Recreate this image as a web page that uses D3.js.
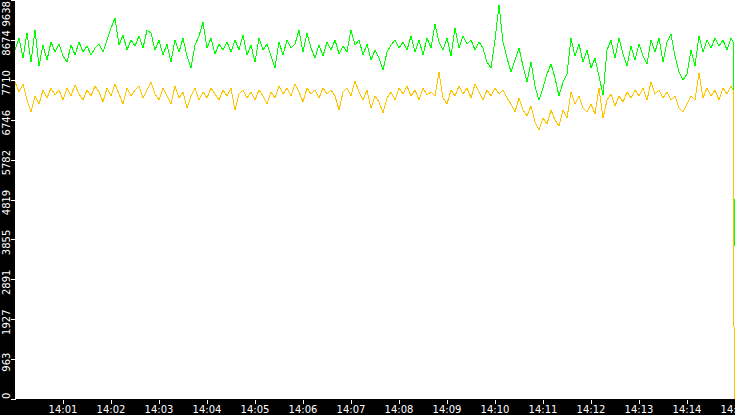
<!DOCTYPE html>
<html>
<head>
<meta charset="utf-8">
<script src="https://cdn.jsdelivr.net/npm/d3@7/dist/d3.min.js"></script>
<style>
body { margin: 0; background: #fff; }
svg { display: block; }
</style>
</head>
<body>
<script>

// samples every 5 seconds from 14:00:00
var greenValues = [8430, 8720, 8237, 8840, 8140, 8913, 8044, 8551, 8188, 8623,
  8382, 8575, 8285, 8140, 8551, 8309, 8623, 8382, 8527, 8309,
  8478, 8575, 8382, 8672, 8962, 9203, 8551, 8792, 8430, 8672,
  8527, 8768, 8478, 8913, 8840, 8430, 8672, 8309, 8575, 8140,
  8672, 8382, 8720, 8285, 7995, 8551, 8768, 9106, 8478, 8720,
  8334, 8575, 8430, 8623, 8382, 8672, 8430, 8792, 8309, 8551,
  8140, 8720, 8430, 8575, 8285, 7995, 8623, 8309, 8672, 8478,
  8575, 8913, 8382, 8840, 8478, 8237, 8551, 8285, 8623, 8430,
  8672, 8334, 8527, 8382, 8913, 8551, 8672, 8309, 8575, 8188,
  8430, 8237, 7947, 8382, 8551, 8672, 8478, 8623, 8430, 8768,
  8382, 8672, 8309, 8720, 8478, 9058, 8623, 8430, 8720, 8285,
  8962, 8478, 8768, 8575, 8672, 8430, 8623, 8478, 8140, 7995,
  8672, 9517, 8623, 8237, 7899, 8188, 8478, 8044, 7657, 8140,
  7560, 7222, 7512, 7851, 8092, 7754, 7319, 7657, 7851, 8720,
  8285, 8575, 8140, 8430, 7995, 8237, 7802, 7343, 8430, 8672,
  8237, 8720, 8334, 8044, 8527, 8188, 8575, 8285, 8092, 8672,
  8382, 8720, 8140, 8623, 8816, 8285, 7899, 7705, 7851, 8430,
  8044, 8768, 8382, 8672, 8478, 8720, 8527, 8672, 8430, 8720];

var orangeValues = [7657, 7415, 7609, 7222, 6932, 7319, 7125, 7464, 7271, 7512,
  7343, 7464, 7222, 7512, 7319, 7584, 7367, 7222, 7464, 7319,
  7560, 7415, 7174, 7512, 7319, 7609, 7367, 7125, 7512, 7319,
  7464, 7560, 7271, 7464, 7657, 7367, 7222, 7512, 7319, 7125,
  7560, 7271, 7415, 7029, 7319, 7512, 7222, 7415, 7271, 7512,
  7367, 7222, 7464, 7319, 7512, 6980, 7367, 7464, 7271, 7415,
  7222, 7464, 7319, 7125, 7415, 7271, 7560, 7367, 7512, 7319,
  7609, 7415, 7174, 7512, 7367, 7464, 7271, 7512, 7367, 7464,
  7319, 6980, 7415, 7512, 7319, 7681, 7415, 7222, 7464, 7029,
  7319, 7174, 6908, 7271, 7415, 7222, 7512, 7367, 7560, 7319,
  7464, 7222, 7512, 7343, 7415, 7319, 7899, 7271, 7125, 7464,
  7319, 7560, 7367, 7512, 7271, 7609, 7415, 7222, 7464, 7319,
  7512, 7367, 7464, 7271, 7125, 6932, 7271, 6980, 6836, 7077,
  6691, 6497, 6787, 6642, 6980, 6739, 6594, 6980, 6787, 7415,
  7125, 7319, 7029, 6932, 7125, 6884, 7512, 6787, 7222, 7367,
  7077, 7319, 7174, 7415, 7271, 7464, 7319, 7512, 7222, 7657,
  7367, 7464, 7271, 7415, 7222, 7319, 7029, 6932, 7125, 7319,
  7222, 7875, 7271, 7512, 7319, 7464, 7222, 7512, 7367, 7560];

// last samples, where both series drop off
var tailSeconds = [898, 899];
var greenTail = [8600, 3700];
var orangeTail = [7440, 0];

var stepSeconds = 5;
var startLabel = "14:00";
var endLabel = "14:15";

var yTickLabels = ["0", "963", "1927", "2891", "3855", "4819", "5782", "6746", "7710", "8674", "9638"];
var xTickLabels = ["14:01", "14:02", "14:03", "14:04", "14:05", "14:06", "14:07", "14:08",
  "14:09", "14:10", "14:11", "14:12", "14:13", "14:14", "14:15"];

var width = 735, height = 415;
var left = 15, bottom = 399;

var parseTime = d3.timeParse("%H:%M");
var t0 = parseTime(startLabel);

function toPoints(values, tail) {
  var pts = values.map(function (v, i) {
    return { t: d3.timeSecond.offset(t0, i * stepSeconds), v: v };
  });
  tail.forEach(function (v, i) {
    pts.push({ t: d3.timeSecond.offset(t0, tailSeconds[i]), v: v });
  });
  return pts;
}

var greenData = toPoints(greenValues, greenTail);
var orangeData = toPoints(orangeValues, orangeTail);

var x = d3.scaleTime()
  .domain([t0, parseTime(endLabel)])
  .range([left, width]);

var y = d3.scaleLinear()
  .domain([0, +yTickLabels[yTickLabels.length - 1]])
  .range([bottom, 0]);

var svg = d3.select("body").append("svg")
  .attr("width", width)
  .attr("height", height);

svg.append("rect")
  .attr("width", width).attr("height", height)
  .attr("fill", "#fff");

var line = d3.line()
  .x(function (d) { return x(d.t); })
  .y(function (d) { return y(d.v); });

svg.append("path")
  .datum(greenData)
  .attr("d", line)
  .attr("fill", "none")
  .attr("stroke", "#00ff00")
  .attr("stroke-width", 1)
  .attr("shape-rendering", "crispEdges");

svg.append("path")
  .datum(orangeData)
  .attr("d", line)
  .attr("fill", "none")
  .attr("stroke", "#ffc400")
  .attr("stroke-width", 1)
  .attr("shape-rendering", "crispEdges");

// black axis strips
svg.append("rect")
  .attr("x", 0).attr("y", 0)
  .attr("width", left).attr("height", height)
  .attr("fill", "#000");

svg.append("rect")
  .attr("x", 0).attr("y", bottom)
  .attr("width", width).attr("height", height - bottom)
  .attr("fill", "#000");

// y axis ticks and rotated labels
var yTicks = svg.append("g").selectAll("g")
  .data(yTickLabels)
  .enter().append("g");

yTicks.append("line")
  .attr("x1", 11).attr("x2", left + 1)
  .attr("y1", function (d) { return Math.round(y(+d)) + 0.5; })
  .attr("y2", function (d) { return Math.round(y(+d)) + 0.5; })
  .attr("stroke", "#fff")
  .attr("shape-rendering", "crispEdges");

yTicks.append("text")
  .attr("transform", function (d) {
    var half = d.length * 3.2;
    var c = y(+d) + 3;
    c = Math.max(half + 1, Math.min(bottom - half, c));
    return "translate(10," + c + ") rotate(-90)";
  })
  .attr("text-anchor", "middle")
  .attr("font-family", "DejaVu Sans")
  .attr("font-size", "10px")
  .attr("fill", "#fff")
  .text(function (d) { return d; });

// x axis ticks and labels
var xTicks = svg.append("g").selectAll("g")
  .data(xTickLabels)
  .enter().append("g");

xTicks.append("line")
  .attr("x1", function (d) { return Math.round(x(parseTime(d))) + 0.5; })
  .attr("x2", function (d) { return Math.round(x(parseTime(d))) + 0.5; })
  .attr("y1", bottom + 1).attr("y2", bottom + 5)
  .attr("stroke", "#fff")
  .attr("shape-rendering", "crispEdges");

xTicks.append("text")
  .attr("x", function (d) { return x(parseTime(d)); })
  .attr("y", 413)
  .attr("text-anchor", "middle")
  .attr("font-family", "DejaVu Sans")
  .attr("font-size", "10px")
  .attr("fill", "#fff")
  .text(function (d) { return d; });

</script>
</body>
</html>
